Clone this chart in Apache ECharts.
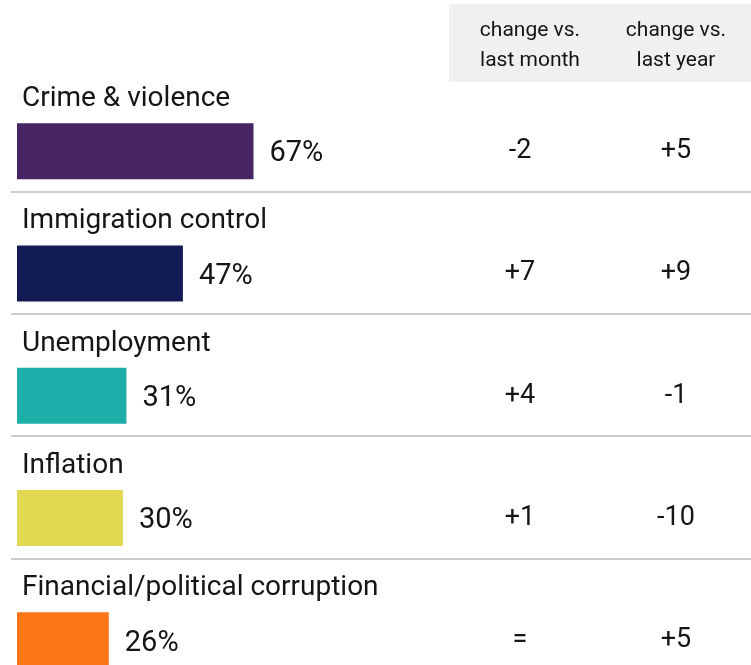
<!DOCTYPE html>
<html>
<head>
<meta charset="utf-8">
<script src="https://cdn.jsdelivr.net/npm/echarts@6/dist/echarts.min.js"></script>
<style>
html,body{margin:0;padding:0;background:#fff;}
#chart{width:751px;height:665px;}
</style>
</head>
<body>
<div id="chart"></div>
<script>
const categories = ['Crime & violence', 'Immigration control', 'Unemployment', 'Inflation', 'Financial/political corruption'];
const shares = [67, 47, 31, 30, 26];
const barColors = ['#472565', '#121b56', '#1eaeaa', '#e2d952', '#fd7616'];
const changeMonth = ['-2', '+7', '+4', '+1', '='];
const changeYear = ['+5', '+9', '-1', '-10', '+5'];
const headers = ['change vs.\nlast month', 'change vs.\nlast year'];

const FONT = 'Roboto';
const W = 'normal';
const TXT = '#151515';
const chart = echarts.init(document.getElementById('chart'), null, {renderer: 'canvas'});

const bandH = 122.3;
chart.setOption({
  animation: false,
  backgroundColor: '#fff',
  textStyle: {fontFamily: FONT},
  graphic: [
    {type: 'rect', z: -10, shape: {x: 449, y: 4, width: 302, height: 78}, style: {fill: '#f0f0f0'}},
    {type: 'text', x: 530, y: 46, style: {text: headers[0], font: W + ' 21px ' + FONT, fill: TXT, align: 'center', verticalAlign: 'middle', lineHeight: 30}},
    {type: 'text', x: 676, y: 46, style: {text: headers[1], font: W + ' 21px ' + FONT, fill: TXT, align: 'center', verticalAlign: 'middle', lineHeight: 30}}
  ],
  grid: [
    {left: 17, top: 90, width: 353, height: bandH * 5, outerBoundsMode: 'none', containLabel: false},
    {left: 11, top: 69.2, right: 0, height: bandH * 5, outerBoundsMode: 'none', containLabel: false}
  ],
  xAxis: [
    {gridIndex: 0, type: 'value', min: 0, max: 100, show: false},
    {gridIndex: 1, type: 'value', min: 0, max: 1, show: false}
  ],
  yAxis: [
    {gridIndex: 0, type: 'category', data: categories, inverse: true, show: false},
    {gridIndex: 0, type: 'category', data: changeMonth, inverse: true, position: 'left', offset: -503,
      axisLine: {show: false}, axisTick: {show: false}, splitLine: {show: false},
      axisLabel: {show: true, margin: 0, align: 'center', padding: [8, 0, 0, 0], color: TXT, fontSize: 27, fontWeight: W, fontFamily: FONT}},
    {gridIndex: 0, type: 'category', data: changeYear, inverse: true, position: 'left', offset: -659,
      axisLine: {show: false}, axisTick: {show: false}, splitLine: {show: false},
      axisLabel: {show: true, margin: 0, align: 'center', padding: [8, 0, 0, 0], color: TXT, fontSize: 27, fontWeight: W, fontFamily: FONT}},
    {gridIndex: 1, type: 'category', data: categories, inverse: true,
      axisLine: {show: false}, axisTick: {show: false}, axisLabel: {show: false},
      splitLine: {show: true, showMinLine: false, showMaxLine: false, lineStyle: {color: '#cccccc', width: 2}}}
  ],
  series: [
    {
      type: 'bar', xAxisIndex: 0, yAxisIndex: 0, barWidth: 56,
      data: shares.map((v, i) => ({value: v, itemStyle: {color: barColors[i]}})),
      label: {show: true, position: 'right', distance: 16, offset: [0, 3], formatter: '{c}%', color: TXT, fontSize: 29, fontWeight: W, fontFamily: FONT}
    },
    {
      type: 'bar', xAxisIndex: 0, yAxisIndex: 0, barWidth: 56, barGap: '-100%', silent: true,
      data: shares, itemStyle: {color: 'rgba(0,0,0,0)'},
      label: {show: true, position: [5, -24], verticalAlign: 'middle', align: 'left',
        formatter: p => categories[p.dataIndex], color: TXT, fontSize: 28, fontWeight: W, fontFamily: FONT}
    }
  ]
});
</script>
</body>
</html>
